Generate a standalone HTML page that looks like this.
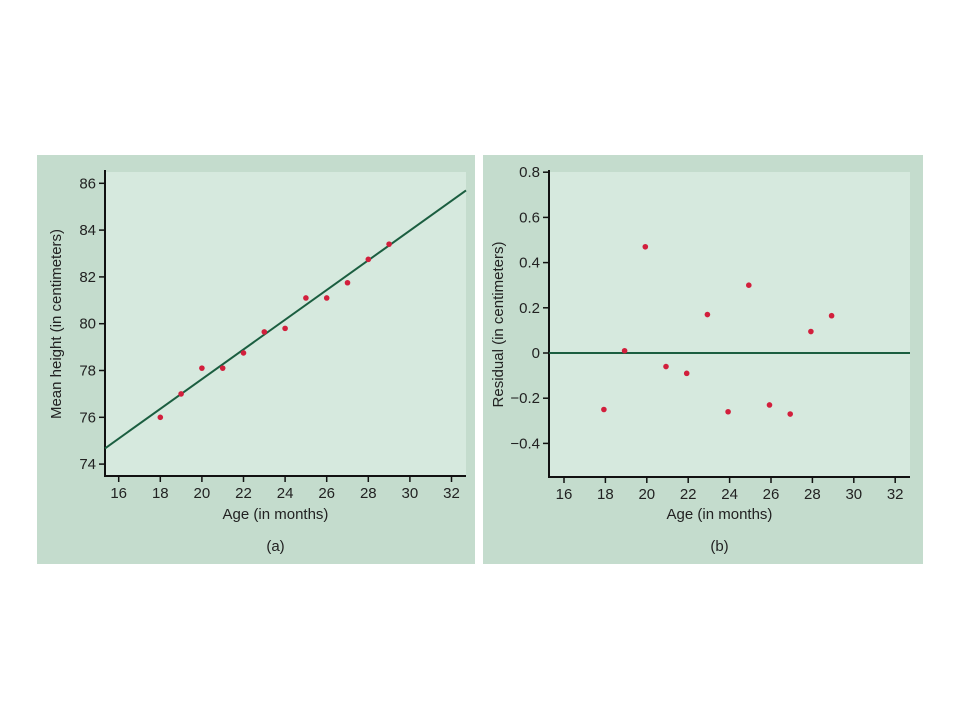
<!DOCTYPE html>
<html><head><meta charset="utf-8"><style>
body{margin:0;background:#fff;}
svg{display:block;font-family:"Liberation Sans",sans-serif;}
</style></head><body>
<svg id="c" width="960" height="720"></svg>
<script>
const ages=[18,19,20,21,22,23,24,25,26,27,28,29];
const heights=[76.0,77.0,78.1,78.1,78.75,79.65,79.8,81.1,81.1,81.75,82.75,83.4];
const residuals=[-0.25,0.01,0.47,-0.06,-0.09,0.17,-0.26,0.30,-0.23,-0.27,0.095,0.165];
const xTicks=[16,18,20,22,24,26,28,30,32];
const yTicksA=[74,76,78,80,82,84,86];
const yTicksB=[-0.4,-0.2,0,0.2,0.4,0.6,0.8];
const yTickLabelsB=["\u22120.4","\u22120.2","0","0.2","0.4","0.6","0.8"];
const fitIntercept=64.93, fitSlope=0.635;

const svg=document.getElementById('c');
const NS='http://www.w3.org/2000/svg';
function el(t,a,p){const e=document.createElementNS(NS,t);for(const k in a)e.setAttribute(k,a[k]);(p||svg).appendChild(e);return e;}

function panel(o){
  const g=el('g',{});
  
  
  const bg=el('rect',{x:o.bx,y:155,width:o.bw,height:409,fill:'#c4dccd'},g);
  
  
  const pb=el('rect',{x:o.L,y:o.T,width:o.R-o.L,height:o.B-o.T,fill:'#d6e9de'},g);
  
  
  const xs=v=>o.x16+(v-16)*o.xs, ys=v=>o.y0-(v-o.yv0)*o.ys;
  // axes
  const ax=el('path',{d:`M${o.L} ${o.T-2}V${o.B}H${o.R}`,stroke:'#111',fill:'none','stroke-width':2},g);
  
  
  xTicks.forEach(t=>{
    const x=xs(t);
    el('line',{x1:x,x2:x,y1:o.B,y2:o.B+6,stroke:'#111','stroke-width':1.5},g);
    const tx=el('text',{x:x,y:o.B+22,'text-anchor':'middle','font-size':15,fill:'#222'},g);
    tx.textContent=t;
    
    
  });
  o.yt.forEach((t,i)=>{
    const y=ys(t);
    el('line',{x1:o.L-6,x2:o.L,y1:y,y2:y,stroke:'#111','stroke-width':1.5},g);
    const tx=el('text',{x:o.L-9,y:y+5,'text-anchor':'end','font-size':15,fill:'#222'},g);
    tx.textContent=o.yl[i];
    
    
  });
  const xl=el('text',{x:(o.L+o.R)/2-10,y:519,'text-anchor':'middle','font-size':15,fill:'#222'},g);
  xl.textContent='Age (in months)';
  
  
  const yl=el('text',{x:0,y:0,'text-anchor':'middle','font-size':15,fill:'#222',transform:`translate(${o.ylx},${(o.T+o.B)/2}) rotate(-90)`},g);
  yl.textContent=o.ytitle;
  
  
  const cap=el('text',{x:(o.L+o.R)/2-10,y:551,'text-anchor':'middle','font-size':15,fill:'#222'},g);
  cap.textContent=o.cap;
  
  
  return {g,xs,ys};
}

const A=panel({name:'panel-a',bx:37,bw:438,L:105,R:466,T:172,B:476,x16:118.7,xs:20.8,y0:183.3,yv0:86,ys:23.4,yt:yTicksA,yl:yTicksA.map(String),ytitle:'Mean height (in centimeters)',ylx:61,cap:'(a)'});
const x0=(105-118.7)/20.8+16, x1=(466-118.7)/20.8+16;
const fl=el('line',{x1:A.xs(x0),y1:A.ys(fitIntercept+fitSlope*x0),x2:A.xs(x1),y2:A.ys(fitIntercept+fitSlope*x1),stroke:'#1b5e40','stroke-width':2},A.g);


ages.forEach((a,i)=>{
  const c=el('circle',{cx:A.xs(a),cy:A.ys(heights[i]),r:2.8,fill:'#d21f3c'},A.g);
  
  
});

const B=panel({name:'panel-b',bx:483,bw:440,L:549,R:910,T:172,B:477,x16:564,xs:20.7,y0:353,yv0:0,ys:226,yt:yTicksB,yl:yTickLabelsB,ytitle:'Residual (in centimeters)',ylx:503,cap:'(b)'});
const zl=el('line',{x1:549,x2:910,y1:B.ys(0),y2:B.ys(0),stroke:'#1b5e40','stroke-width':2},B.g);


ages.forEach((a,i)=>{
  const c=el('circle',{cx:B.xs(a)-1.5,cy:B.ys(residuals[i]),r:2.8,fill:'#d21f3c'},B.g);
  
  
});
</script>
</body></html>
